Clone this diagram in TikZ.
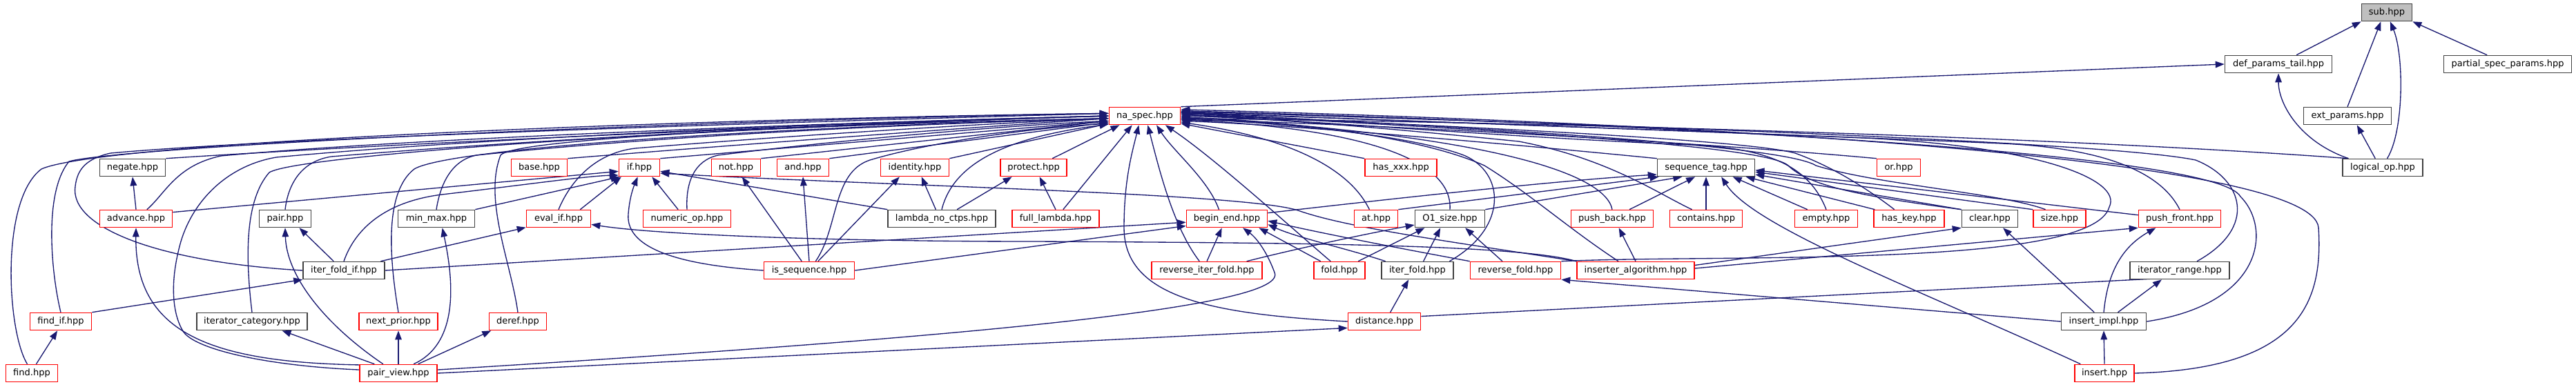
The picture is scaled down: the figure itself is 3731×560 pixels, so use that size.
\documentclass[tikz,border=0pt]{standalone}
\usepackage{fontspec}
\setmainfont{DejaVu Sans}
\usetikzlibrary{arrows.meta}
\definecolor{navy}{HTML}{191970}
\definecolor{gry}{HTML}{404040}
\definecolor{gfill}{HTML}{BFBFBF}
\definecolor{rdc}{HTML}{FF0000}
\newcommand\ndfont{\fontsize{3.7pt}{4.4pt}\selectfont}
\pgfdeclarelayer{bg}
\pgfsetlayers{bg,main}
\tikzset{
  nd/.style={draw=gry, line width=0.45pt, fill=white, inner sep=0pt, minimum height=0.25cm, minimum width=#1*0.01cm, font=\ndfont},
  rd/.style={nd=#1, draw=rdc},
  e/.style={draw=navy, line width=0.38pt, -{Triangle[length=0.13cm,width=0.095cm]}},
}
\begin{document}
\begin{tikzpicture}[x=0.01cm,y=-0.01cm]
\useasboundingbox (0,0) rectangle (3731,560);
% row 0-2
\node[nd=73, fill=gfill] (sub) at (3457,18) {sub.hpp};
\node[nd=155] (defparams) at (3300,93) {def\_params\_tail.hpp};
\node[nd=185] (partialspec) at (3632,93) {partial\_spec\_params.hpp};
\node[rd=103] (naspec) at (1658,168) {na\_spec.hpp};
\node[nd=127] (extparams) at (3400,168) {ext\_params.hpp};
% row 3
\node[nd=95] (negate) at (192,243) {negate.hpp};
\node[rd=81] (base) at (781,243) {base.hpp};
\node[rd=59] (nif) at (926,243) {if.hpp};
\node[rd=71] (nnot) at (1066,243) {not.hpp};
\node[rd=75] (nand) at (1163,243) {and.hpp};
\node[rd=99] (identity) at (1325,243) {identity.hpp};
\node[rd=96] (protect) at (1497,243) {protect.hpp};
\node[rd=104] (hasxxx) at (2029,243) {has\_xxx.hpp};
\node[nd=141] (seqtag) at (2471,243) {sequence\_tag.hpp};
\node[rd=63] (nor) at (2750,243) {or.hpp};
\node[nd=116] (logicalop) at (3451,243) {logical\_op.hpp};
% row 4
\node[rd=105] (advance) at (197,317) {advance.hpp};
\node[nd=75] (pair) at (413,317) {pair.hpp};
\node[nd=111] (minmax) at (632,317) {min\_max.hpp};
\node[rd=93] (evalif) at (809,317) {eval\_if.hpp};
\node[rd=127] (numericop) at (995,317) {numeric\_op.hpp};
\node[nd=156] (lambdanc) at (1364,317) {lambda\_no\_ctps.hpp};
\node[rd=126] (fulllambda) at (1529,317) {full\_lambda.hpp};
\node[rd=117] (beginend) at (1777,317) {begin\_end.hpp};
\node[rd=63] (nat) at (1993,317) {at.hpp};
\node[nd=101] (o1size) at (2100,317) {O1\_size.hpp};
\node[rd=119] (pushback) at (2335,317) {push\_back.hpp};
\node[rd=105] (contains) at (2471,317) {contains.hpp};
\node[rd=91] (empty) at (2645,317) {empty.hpp};
\node[rd=102] (haskey) at (2765,317) {has\_key.hpp};
\node[nd=81] (clear) at (2882,317) {clear.hpp};
\node[rd=76] (size) at (2983,317) {size.hpp};
\node[rd=119] (pushfront) at (3157,317) {push\_front.hpp};
% row 5
\node[nd=118] (iterfoldif) at (498,392) {iter\_fold\_if.hpp};
\node[rd=131] (isseq) at (1172,392) {is\_sequence.hpp};
\node[rd=160] (reviterfold) at (1748,392) {reverse\_iter\_fold.hpp};
\node[rd=74] (fold) at (1940,392) {fold.hpp};
\node[nd=104] (iterfold) at (2053,392) {iter\_fold.hpp};
\node[rd=131] (revfold) at (2195,392) {reverse\_fold.hpp};
\node[rd=170] (inserter) at (2369,392) {inserter\_algorithm.hpp};
\node[nd=144] (iterrange) at (3157,392) {iterator\_range.hpp};
% row 6
\node[rd=89] (findif) at (88,466) {find\_if.hpp};
\node[nd=160] (itercat) at (365,466) {iterator\_category.hpp};
\node[rd=114] (nextprior) at (577,466) {next\_prior.hpp};
\node[rd=83] (deref) at (750,466) {deref.hpp};
\node[rd=105] (distance) at (2005,466) {distance.hpp};
\node[nd=123] (insertimpl) at (3047,466) {insert\_impl.hpp};
% row 7
\node[rd=75] (find) at (46,541) {find.hpp};
\node[rd=112] (pairview) at (577,541) {pair\_view.hpp};
\node[rd=86] (insert) at (3048,541) {insert.hpp};

\begin{pgfonlayer}{bg}
% into sub, def_params_tail, ext_params
\draw[e] (defparams.27) -- (sub.south west);
\draw[e] (extparams.north) -- (sub.-123);
\draw[e] (logicalop.64) .. controls (3482,190) and (3482,80) .. (sub.-70);
\draw[e] (partialspec.156) -- (sub.south east);
\draw[e] (naspec.north east) -- (defparams.west);
\draw[e] (logicalop.165) .. controls (3330,205) and (3300,150) .. (defparams.south);
\draw[e] (logicalop.129) -- (extparams.-44);
% into na_spec from the left
\draw[e] (find.116) .. controls (10,480) and (0,290) .. (60,245) .. controls (150,205) and (1000,172) .. (naspec.176);
\draw[e] (findif.north) .. controls (75,400) and (62,280) .. (100,234) .. controls (180,212) and (1000,174) .. (naspec.176);
\draw[e] (iterfoldif.west) .. controls (230,380) and (100,330) .. (109,270) .. controls (112,245) and (125,230) .. (160,222) .. controls (400,200) and (1100,178) .. (naspec.176);
\draw[e] (negate.north east) .. controls (700,200) and (1300,178) .. (naspec.180);
\draw[e] (advance.40) .. controls (240,280) and (255,240) .. (320,226) .. controls (600,200) and (1200,178) .. (naspec.180);
\draw[e] (pairview.175) .. controls (380,530) and (280,505) .. (265,480) .. controls (250,455) and (245,410) .. (262,350) .. controls (280,290) and (330,240) .. (400,228) .. controls (700,200) and (1200,178) .. (naspec.180);
\draw[e] (itercat.north) .. controls (355,370) and (355,290) .. (390,250) .. controls (430,225) and (1000,185) .. (naspec.180);
\draw[e] (pair.north) .. controls (418,262) and (440,233) .. (480,227) .. controls (800,200) and (1250,178) .. (naspec.180);
\draw[e] (nextprior.north) .. controls (565,380) and (555,280) .. (600,245) .. controls (650,215) and (1100,185) .. (naspec.184);
\draw[e] (minmax.north) .. controls (638,265) and (655,232) .. (690,225) .. controls (950,198) and (1300,180) .. (naspec.184);
\draw[e] (deref.north) .. controls (740,380) and (700,290) .. (725,225) .. controls (745,200) and (1200,180) .. (naspec.184);
\draw[e] (base.north east) .. controls (1000,215) and (1400,185) .. (naspec.184);
\draw[e] (evalif.north) .. controls (825,265) and (860,222) .. (920,215) .. controls (1100,200) and (1400,180) .. (naspec.184);
\draw[e] (nif.north east) -- (naspec.188);
\draw[e] (numericop.north) .. controls (993,265) and (1005,233) .. (1040,225) .. controls (1200,205) and (1450,182) .. (naspec.188);
\draw[e] (nnot.north east) -- (naspec.188);
\draw[e] (nand.north east) -- (naspec.190);
\draw[e] (isseq.55) .. controls (1215,330) and (1205,250) .. (1260,232) .. controls (1350,205) and (1500,185) .. (naspec.192);
\draw[e] (identity.north east) -- (naspec.192);
\draw[e] (lambdanc.north) .. controls (1380,240) and (1450,200) .. (naspec.193);
% into na_spec from below
\draw[e] (protect.26) -- (naspec.-160);
\draw[e] (fulllambda.51) -- (naspec.-144);
\draw[e] (distance.west) .. controls (1750,455) and (1628,430) .. (1628,330) .. controls (1628,260) and (1640,220) .. (naspec.-123);
\draw[e] (reviterfold.129) .. controls (1700,330) and (1680,250) .. (naspec.-72);
\draw[e] (beginend.131) .. controls (1750,260) and (1700,220) .. (naspec.-38);
\draw[e] (fold.134) .. controls (1870,330) and (1760,230) .. (naspec.-24);
% into na_spec from the right
\draw[e] (hasxxx.north west) -- (naspec.-12);
\draw[e] (nat.126) .. controls (1955,245) and (1870,200) .. (naspec.-10);
\draw[e] (seqtag.north west) .. controls (2150,205) and (1850,180) .. (naspec.-8);
\draw[e] (o1size.north) .. controls (2105,225) and (1950,185) .. (naspec.-6);
\draw[e] (nor.north west) .. controls (2450,205) and (1950,178) .. (naspec.-6);
\draw[e] (iterfold.16) .. controls (2185,330) and (2180,250) .. (2120,225) .. controls (2040,195) and (1850,178) .. (naspec.-4);
\draw[e] (logicalop.165) .. controls (3000,200) and (2300,178) .. (naspec.-4);
\draw[e] (pushback.north) .. controls (2325,250) and (2150,195) .. (naspec.-2);
\draw[e] (inserter.152) .. controls (2270,330) and (2215,280) .. (2150,240) .. controls (2050,195) and (1850,175) .. (naspec.-2);
\draw[e] (contains.147) .. controls (2400,280) and (2330,230) .. (2200,205) .. controls (2000,185) and (1850,172) .. (naspec.0);
\draw[e] (empty.north) .. controls (2620,240) and (2560,215) .. (2450,210) .. controls (2200,200) and (1900,175) .. (naspec.2);
\draw[e] (haskey.148) .. controls (2700,270) and (2650,240) .. (2600,222) .. controls (2520,200) and (2000,178) .. (naspec.2);
\draw[e] (clear.north west) .. controls (2700,285) and (2620,270) .. (2590,240) .. controls (2560,212) and (2200,190) .. (naspec.4);
\draw[e] (size.147) .. controls (2900,280) and (2720,268) .. (2630,240) .. controls (2590,214) and (2250,190) .. (naspec.5);
\draw[e] (revfold.north east) .. controls (2500,368) and (3030,390) .. (3055,300) .. controls (3075,260) and (2950,212) .. (2700,200) .. controls (2400,188) and (1950,172) .. (naspec.5);
\draw[e] (pushfront.north) .. controls (3130,250) and (3050,215) .. (2900,208) .. controls (2600,195) and (2100,178) .. (naspec.6);
\draw[e] (iterrange.28) .. controls (3270,330) and (3250,260) .. (3180,232) .. controls (3050,205) and (2300,180) .. (naspec.7);
\draw[e] (insertimpl.east) .. controls (3280,440) and (3290,330) .. (3245,285) .. controls (3210,220) and (2400,180) .. (naspec.8);
\draw[e] (insert.east) .. controls (3330,535) and (3365,440) .. (3358,330) .. controls (3350,230) and (2500,180) .. (naspec.10);
% into negate, if, eval_if
\draw[e] (advance.north) -- (negate.south);
\draw[e] (advance.10) -- (nif.190);
\draw[e] (iterfoldif.north) .. controls (515,330) and (560,292) .. (640,282) .. controls (760,268) and (850,255) .. (nif.200);
\draw[e] (minmax.north east) -- (nif.205);
\draw[e] (evalif.23) -- (nif.-153);
\draw[e] (numericop.134) -- (nif.-36);
\draw[e] (isseq.west) .. controls (1000,385) and (905,365) .. (910,310) .. controls (912,285) and (918,270) .. (nif.-100);
\draw[e] (lambdanc.north west) -- (nif.-10);
\draw[e] (inserter.north west) .. controls (2100,350) and (1950,330) .. (1880,305) .. controls (1800,280) and (1300,270) .. (nif.-15);
\draw[e] (inserter.north west) .. controls (2200,355) and (1900,352) .. (1500,350) .. controls (1200,350) and (950,340) .. (evalif.-10);
\draw[e] (iterfoldif.14) -- (evalif.-165);
% iter_fold_if, pair, find
\draw[e] (iterfoldif.138) -- (pair.-33);
\draw[e] (iterfoldif.east) -- (beginend.-175);
\draw[e] (findif.north east) -- (iterfoldif.south west);
\draw[e] (find.64) -- (findif.-110);
% pair_view
\draw[e] (pairview.168) .. controls (300,525) and (195,480) .. (advance.south);
\draw[e] (pairview.149) .. controls (470,470) and (415,400) .. (pair.south);
\draw[e] (pairview.159) -- (itercat.-17);
\draw[e] (pairview.north) -- (nextprior.south);
\draw[e] (pairview.31) .. controls (660,500) and (660,420) .. (minmax.-57);
\draw[e] (pairview.25) -- (deref.-161);
\draw[e] (pairview.east) -- (distance.190);
\draw[e] (pairview.5) .. controls (1300,495) and (1870,450) .. (1846,395) .. controls (1835,365) and (1820,345) .. (beginend.-30);
% is_sequence, lambda
\draw[e] (isseq.129) -- (nnot.-57);
\draw[e] (isseq.north) -- (nand.south);
\draw[e] (isseq.46) -- (identity.-149);
\draw[e] (isseq.east) -- (beginend.-170);
\draw[e] (lambdanc.123) -- (identity.-54);
\draw[e] (lambdanc.31) -- (protect.-157);
\draw[e] (fulllambda.north) -- (protect.-57);
% begin_end, O1_size
\draw[e] (reviterfold.north) -- (beginend.-119);
\draw[e] (reviterfold.13) .. controls (1900,355) and (2000,335) .. (o1size.-170);
\draw[e] (fold.154) -- (beginend.-16);
\draw[e] (fold.26) -- (o1size.-160);
\draw[e] (iterfold.164) .. controls (1950,360) and (1880,345) .. (beginend.-8);
\draw[e] (iterfold.57) -- (o1size.-136);
\draw[e] (revfold.north west) .. controls (2000,355) and (1900,335) .. (beginend.-3);
\draw[e] (revfold.145) -- (o1size.-31);
% sequence_tag
\draw[e] (beginend.8) .. controls (2000,290) and (2250,262) .. (seqtag.-172);
\draw[e] (nat.north east) -- (seqtag.-169);
\draw[e] (o1size.north east) -- (seqtag.-159);
\draw[e] (pushback.28) -- (seqtag.-140);
\draw[e] (contains.north) -- (seqtag.south);
\draw[e] (empty.154) -- (seqtag.-19);
\draw[e] (haskey.165) -- (seqtag.-13);
\draw[e] (clear.north west) -- (seqtag.-8);
\draw[e] (size.north west) -- (seqtag.-5);
\draw[e] (pushfront.175) -- (seqtag.-3);
\draw[e] (insert.159) .. controls (2780,420) and (2540,330) .. (seqtag.-31);
% inserter_algorithm, insert_impl, distance
\draw[e] (inserter.north) -- (pushback.-54);
\draw[e] (inserter.5) -- (clear.south west);
\draw[e] (inserter.2) -- (pushfront.south west);
\draw[e] (insertimpl.136) -- (clear.-35);
\draw[e] (insertimpl.west) -- (revfold.south east);
\draw[e] (insertimpl.north) .. controls (3052,400) and (3070,360) .. (pushfront.-159);
\draw[e] (insertimpl.33) -- (iterrange.-153);
\draw[e] (insert.north) -- (insertimpl.south);
\draw[e] (distance.57) -- (iterfold.-134);
\draw[e] (distance.8) -- (iterrange.-5);
\end{pgfonlayer}
\end{tikzpicture}
\end{document}
